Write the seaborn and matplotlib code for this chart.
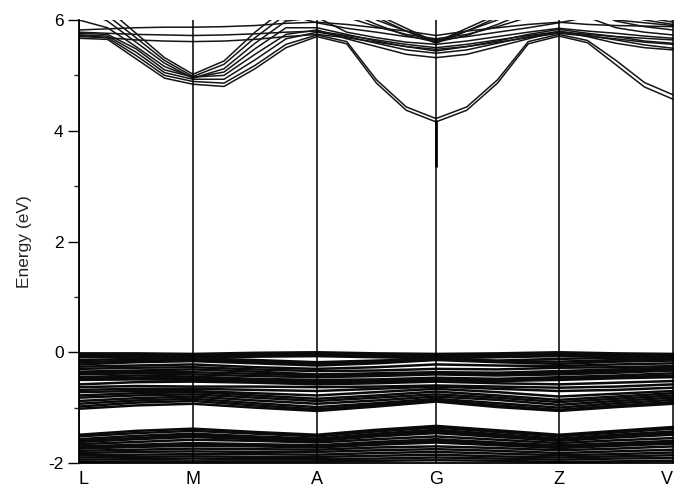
import numpy as np
import pandas as pd
import seaborn as sns
from matplotlib import pyplot as plt
from matplotlib.ticker import MultipleLocator

# high-symmetry points along the path (k distance, arbitrary units)
kpoint_labels = ["L", "M", "A", "G", "Z", "V"]
kpoint_pos = [0, 114, 238, 357, 480, 594]

# conduction bands: 4 steps per segment (21 k-points)
cond_bands = [
    [5.67,5.65,5.30,4.95,4.84, 4.80,5.12,5.50,5.70, 5.57,4.86,4.37,4.16, 4.37,4.86,5.57,5.71, 5.59,5.19,4.79,4.57],
    [5.70,5.68,5.36,5.00,4.89, 4.86,5.18,5.56,5.73, 5.61,4.92,4.43,4.22, 4.43,4.92,5.61,5.74, 5.63,5.27,4.87,4.65],
    [5.73,5.71,5.42,5.05,4.93, 4.93,5.28,5.66,5.78, 5.70,5.58,5.46,5.40, 5.46,5.58,5.70,5.78, 5.72,5.64,5.55,5.49],
    [5.76,5.74,5.48,5.10,4.97, 5.00,5.38,5.74,5.82, 5.66,5.52,5.38,5.32, 5.38,5.52,5.66,5.80, 5.70,5.58,5.50,5.46],
    [6.00,5.86,5.52,5.16,4.96, 5.06,5.48,5.86,5.86, 5.74,5.62,5.52,5.47, 5.52,5.62,5.74,5.83, 5.76,5.70,5.62,5.58],
    [6.20,5.98,5.60,5.22,4.95, 5.12,5.58,5.98,6.05, 5.78,5.68,5.60,5.56, 5.62,5.70,5.78,5.85, 5.80,5.76,5.71,5.67],
    [6.35,6.08,5.68,5.27,4.98, 5.20,5.68,6.10,6.30, 6.15,5.92,5.72,5.60, 5.72,5.92,6.15,6.30, 6.05,5.86,5.78,5.73],
    [6.50,6.20,5.76,5.32,5.02, 5.26,5.78,6.22,6.50, 6.30,6.05,5.80,5.62, 5.80,6.05,6.30,6.50, 6.20,5.98,5.88,5.82],
    [5.82,5.84,5.86,5.87,5.87, 5.88,5.90,5.94,5.96, 5.92,5.86,5.80,5.72, 5.80,5.86,5.92,5.96, 5.92,5.90,5.89,5.88],
    [5.78,5.76,5.74,5.73,5.72, 5.73,5.75,5.78,5.80, 5.72,5.64,5.56,5.50, 5.56,5.64,5.72,5.79, 5.74,5.70,5.67,5.64],
    [5.73,5.68,5.64,5.62,5.61, 5.62,5.65,5.70,5.74, 5.68,5.60,5.52,5.44, 5.52,5.60,5.68,5.76, 5.71,5.66,5.60,5.56],
    [6.40,6.30,6.20,6.10,6.05, 6.10,6.20,6.10,5.95, 5.85,5.78,5.70,5.64, 5.70,5.78,5.86,5.95, 6.05,6.10,6.00,5.92],
    [6.60,6.50,6.40,6.30,6.20, 6.20,6.10,6.00,6.25, 6.05,5.88,5.74,5.66, 5.74,5.88,6.05,6.25, 6.15,6.00,5.95,5.90],
    [6.70,6.60,6.50,6.40,6.30, 6.30,6.30,6.30,6.60, 6.35,6.10,5.85,5.60, 5.85,6.10,6.35,6.60, 6.40,6.20,6.05,5.96],
    [6.80,6.70,6.60,6.50,6.40, 6.40,6.40,6.40,6.70, 6.40,6.00,5.80,5.58, 5.80,6.00,6.40,6.70, 6.50,6.30,6.10,6.00],
]

# valence bands: 2 steps per segment (11 k-points)
val_bands = [
    [-0.02,-0.02,-0.03,-0.01,-0.00,-0.02,-0.03,-0.02,-0.00,-0.02,-0.03],
    [-0.05,-0.04,-0.06,-0.04,-0.03,-0.05,-0.06,-0.04,-0.03,-0.05,-0.06],
    [-0.07,-0.06,-0.08,-0.06,-0.05,-0.07,-0.09,-0.07,-0.05,-0.06,-0.08],
    [-0.09,-0.08,-0.10,-0.08,-0.07,-0.09,-0.11,-0.09,-0.07,-0.08,-0.10],
    [-0.14,-0.12,-0.11,-0.14,-0.18,-0.15,-0.12,-0.15,-0.12,-0.10,-0.09],
    [-0.18,-0.15,-0.14,-0.17,-0.21,-0.17,-0.13,-0.16,-0.17,-0.14,-0.12],
    [-0.22,-0.18,-0.16,-0.20,-0.24,-0.20,-0.14,-0.18,-0.21,-0.17,-0.15],
    [-0.26,-0.24,-0.22,-0.27,-0.30,-0.27,-0.22,-0.24,-0.25,-0.22,-0.20],
    [-0.30,-0.28,-0.27,-0.31,-0.34,-0.33,-0.30,-0.31,-0.28,-0.27,-0.25],
    [-0.35,-0.33,-0.31,-0.35,-0.40,-0.38,-0.36,-0.37,-0.34,-0.31,-0.28],
    [-0.38,-0.36,-0.36,-0.39,-0.42,-0.40,-0.38,-0.40,-0.37,-0.34,-0.31],
    [-0.40,-0.38,-0.40,-0.43,-0.45,-0.43,-0.40,-0.42,-0.40,-0.37,-0.33],
    [-0.45,-0.42,-0.44,-0.48,-0.50,-0.49,-0.46,-0.48,-0.45,-0.42,-0.38],
    [-0.48,-0.46,-0.47,-0.50,-0.52,-0.51,-0.49,-0.50,-0.48,-0.45,-0.42],
    [-0.50,-0.49,-0.50,-0.52,-0.55,-0.53,-0.51,-0.52,-0.50,-0.47,-0.45],
    [-0.58,-0.54,-0.53,-0.55,-0.58,-0.56,-0.53,-0.56,-0.58,-0.55,-0.52],
    [-0.63,-0.61,-0.62,-0.62,-0.63,-0.62,-0.60,-0.62,-0.64,-0.62,-0.58],
    [-0.68,-0.66,-0.66,-0.68,-0.70,-0.66,-0.62,-0.66,-0.70,-0.68,-0.64],
    [-0.72,-0.70,-0.70,-0.74,-0.78,-0.72,-0.66,-0.72,-0.80,-0.75,-0.70],
    [-0.78,-0.74,-0.72,-0.78,-0.84,-0.78,-0.71,-0.78,-0.86,-0.80,-0.74],
    [-0.82,-0.78,-0.76,-0.82,-0.88,-0.82,-0.76,-0.82,-0.90,-0.84,-0.78],
    [-0.88,-0.83,-0.80,-0.87,-0.93,-0.87,-0.80,-0.86,-0.95,-0.88,-0.82],
    [-0.93,-0.87,-0.84,-0.92,-0.99,-0.92,-0.84,-0.92,-1.00,-0.92,-0.86],
    [-0.98,-0.91,-0.88,-0.96,-1.03,-0.95,-0.87,-0.96,-1.04,-0.96,-0.90],
    [-1.02,-0.96,-0.93,-1.00,-1.06,-0.98,-0.89,-0.99,-1.06,-0.99,-0.93],
    [-1.49,-1.42,-1.38,-1.44,-1.49,-1.40,-1.33,-1.41,-1.49,-1.42,-1.35],
    [-1.52,-1.46,-1.42,-1.47,-1.52,-1.43,-1.36,-1.44,-1.52,-1.45,-1.38],
    [-1.57,-1.51,-1.47,-1.52,-1.56,-1.47,-1.40,-1.48,-1.56,-1.49,-1.43],
    [-1.60,-1.55,-1.50,-1.55,-1.58,-1.50,-1.43,-1.50,-1.58,-1.52,-1.46],
    [-1.62,-1.57,-1.53,-1.57,-1.60,-1.52,-1.46,-1.53,-1.60,-1.54,-1.49],
    [-1.66,-1.62,-1.58,-1.60,-1.63,-1.57,-1.52,-1.58,-1.64,-1.59,-1.55],
    [-1.70,-1.67,-1.64,-1.66,-1.68,-1.62,-1.57,-1.63,-1.68,-1.64,-1.60],
    [-1.72,-1.69,-1.67,-1.68,-1.70,-1.65,-1.60,-1.66,-1.71,-1.67,-1.63],
    [-1.74,-1.71,-1.69,-1.70,-1.72,-1.67,-1.63,-1.68,-1.73,-1.69,-1.65],
    [-1.78,-1.76,-1.74,-1.75,-1.76,-1.72,-1.70,-1.73,-1.77,-1.74,-1.70],
    [-1.82,-1.80,-1.79,-1.80,-1.80,-1.77,-1.75,-1.78,-1.82,-1.79,-1.76],
    [-1.86,-1.85,-1.84,-1.84,-1.85,-1.82,-1.80,-1.83,-1.86,-1.84,-1.81],
    [-1.90,-1.89,-1.88,-1.89,-1.89,-1.87,-1.85,-1.88,-1.90,-1.88,-1.86],
    [-1.94,-1.93,-1.92,-1.93,-1.93,-1.92,-1.90,-1.92,-1.94,-1.92,-1.91],
    [-1.98,-1.97,-1.97,-1.97,-1.97,-1.96,-1.95,-1.96,-1.98,-1.97,-1.96],
]


def kgrid(steps):
    # k positions with `steps` equal steps between neighbouring symmetry points
    out = []
    for a, b in zip(kpoint_pos[:-1], kpoint_pos[1:]):
        out += [a + (b - a) * i / steps for i in range(steps)]
    return out + [kpoint_pos[-1]]


def band_frame(bands, steps, tag):
    rows = []
    for i, band in enumerate(bands):
        for k, e in zip(kgrid(steps), band):
            rows.append((tag + str(i), k, e))
    return pd.DataFrame(rows, columns=["band", "k", "E"])


cond_df = band_frame(cond_bands, 4, "c")
val_df = band_frame(val_bands, 2, "v")

sns.set_style("ticks")
plt.rcParams["font.family"] = ["Liberation Sans", "DejaVu Sans"]
plt.rcParams["axes.unicode_minus"] = False

fig = plt.figure(figsize=(6.74, 4.91), dpi=100)
ax = fig.add_axes([79 / 674, 28 / 491, 595 / 674, 443 / 491])

sns.lineplot(data=cond_df, x="k", y="E", units="band", estimator=None,
             color="#151515", lw=1.1, ax=ax, legend=False)
sns.lineplot(data=val_df, x="k", y="E", units="band", estimator=None,
             color="#0a0a0a", lw=1.8, ax=ax, legend=False)

for k in kpoint_pos:
    ax.axvline(k, color="black", lw=1.1, zorder=3)
ax.vlines(kpoint_pos[3], 3.35, 4.2, color="black", lw=2.0, zorder=3)

ax.set_xlim(0, 595)
ax.set_ylim(-2, 6)
ax.set_xticks(kpoint_pos)
ax.set_xticklabels(kpoint_labels, fontsize=13)
labels = ax.get_xticklabels()
labels[0].set_horizontalalignment("left")
labels[-1].set_horizontalalignment("right")
ax.yaxis.set_major_locator(MultipleLocator(2))
ax.yaxis.set_minor_locator(MultipleLocator(1))
ax.tick_params(axis="y", which="major", direction="out", length=8, width=1,
               labelsize=12.5, pad=3, colors="black")
ax.tick_params(axis="y", which="minor", direction="out", length=3.5, width=1)
ax.tick_params(axis="x", length=0, pad=6, colors="black")
ax.set_xlabel("")
ax.set_ylabel("Energy (eV)", fontsize=12.5, labelpad=12)

for s in ["top", "right"]:
    ax.spines[s].set_visible(False)
for s in ["left", "bottom"]:
    ax.spines[s].set_color("black")
    ax.spines[s].set_linewidth(1.3)

fig.savefig("out.png", dpi=100)
